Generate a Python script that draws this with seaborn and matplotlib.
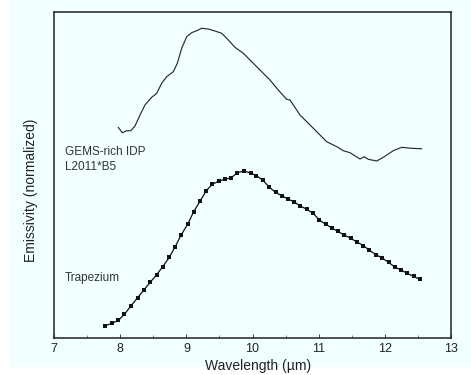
import numpy as np
import pandas as pd
import matplotlib
matplotlib.use("Agg")
import matplotlib.pyplot as plt
import seaborn as sns
from matplotlib.patches import Rectangle

# GEMS-rich IDP spectrum (normalized, arbitrary units)
gems_wl = [7.968, 8.029, 8.096, 8.156, 8.221, 8.297, 8.372, 8.474, 8.550, 8.625,
           8.701, 8.801, 8.862, 8.928, 9.004, 9.079, 9.155, 9.231, 9.331, 9.432,
           9.534, 9.634, 9.735, 9.861, 9.962, 10.063, 10.163, 10.264, 10.390, 10.517,
           10.568, 10.719, 10.871, 11.022, 11.123, 11.275, 11.374, 11.476, 11.627, 11.692,
           11.753, 11.880, 11.980, 12.131, 12.259, 12.410, 12.561]
gems_em = [64.67, 63.01, 63.62, 63.62, 65.07, 68.45, 71.52, 73.89, 75.12, 78.20,
           80.22, 81.76, 84.34, 88.95, 92.52, 93.75, 94.37, 95.10, 94.89, 94.27,
           93.57, 91.51, 89.26, 87.42, 85.36, 83.30, 81.27, 79.23, 76.14, 73.28,
           73.06, 68.45, 65.38, 62.30, 60.24, 58.71, 57.48, 56.86, 54.92, 55.63,
           54.83, 54.31, 55.45, 57.48, 58.52, 58.21, 58.09]

# Trapezium spectrum (normalized, arbitrary units)
trap_wl = [7.77, 7.87, 7.97, 8.06, 8.16, 8.26, 8.36, 8.45, 8.55, 8.64,
           8.74, 8.83, 8.92, 9.02, 9.11, 9.21, 9.30, 9.39, 9.49, 9.58,
           9.68, 9.77, 9.87, 9.97, 10.06, 10.16, 10.25, 10.35, 10.44, 10.54,
           10.63, 10.72, 10.82, 10.92, 11.01, 11.11, 11.20, 11.29, 11.39, 11.49,
           11.58, 11.68, 11.77, 11.87, 11.96, 12.06, 12.16, 12.25, 12.34, 12.44,
           12.53]
trap_em = [3.69, 4.41, 5.33, 7.17, 9.73, 12.30, 14.75, 17.01, 19.36, 21.82,
           24.69, 27.97, 31.56, 34.94, 38.73, 42.11, 45.18, 47.13, 48.16, 48.67,
           49.18, 50.72, 51.23, 50.61, 49.80, 48.36, 46.31, 44.67, 43.65, 42.62,
           41.70, 40.57, 39.45, 38.22, 36.17, 34.84, 33.71, 32.68, 31.56, 30.53,
           29.41, 28.28, 26.84, 25.51, 24.49, 23.16, 21.62, 20.80, 19.77, 18.85,
           17.93]

x_ticks = [7, 8, 9, 10, 11, 12, 13]
x_tick_labels = ["7", "8", "9", "10", "11", "12", "13"]

sns.set_style("ticks")
plt.rcParams['font.family'] = ['Liberation Sans', 'DejaVu Sans']

bg = "#F0FFFF"
fig = plt.figure(figsize=(4.71, 3.75), dpi=100, facecolor="white")
fig.patches.append(Rectangle((10 / 471, 8 / 375), 1 - 10 / 471, 1 - 8 / 375,
                             transform=fig.transFigure, facecolor=bg,
                             edgecolor="none", zorder=-10))
ax = fig.add_axes([0.1153, 0.0995, 0.8416, 0.8675])
ax.set_facecolor(bg)

gems_df = pd.DataFrame({"wl": gems_wl, "em": gems_em})
trap_df = pd.DataFrame({"wl": trap_wl, "em": trap_em})

sns.lineplot(data=gems_df, x="wl", y="em", ax=ax, color="#2a2a35",
             linewidth=0.85, sort=False, estimator=None)
sns.lineplot(data=trap_df, x="wl", y="em", ax=ax, color="#111111",
             linewidth=0.9, marker="s", markersize=3.2, markeredgewidth=0,
             sort=False, estimator=None)

ax.set_xlim(7, 13)
ax.set_ylim(0, 100)
ax.set_xticks(x_ticks)
ax.set_xticklabels(x_tick_labels, fontsize=9)
ax.set_xticks(np.arange(7.5, 13, 1.0), minor=True)
ax.tick_params(axis="x", which="major", direction="in", length=3, width=0.6,
               pad=3.5, colors="#222222")
ax.tick_params(axis="x", which="minor", direction="in", length=2, width=0.5,
               colors="#555555")
ax.set_yticks([])
for s in ax.spines.values():
    s.set_linewidth(1.1)
    s.set_color("#222222")

ax.set_xlabel("Wavelength (\u00b5m)", fontsize=10, color="#222222")
ax.xaxis.set_label_coords(0.514, -0.066)
ax.set_ylabel("Emissivity (normalized)", fontsize=10, color="#222222")
ax.yaxis.set_label_coords(-0.04, 0.454)

ax.text(7.16, 57.0, "GEMS-rich IDP", fontsize=8.5, color="#333333",
        ha="left", va="center")
ax.text(7.16, 52.4, "L2011*B5", fontsize=8.5, color="#333333",
        ha="left", va="center")
ax.text(7.16, 18.5, "Trapezium", fontsize=8.5, color="#333333",
        ha="left", va="center")

fig.savefig("out.png", dpi=100, facecolor=fig.get_facecolor())
